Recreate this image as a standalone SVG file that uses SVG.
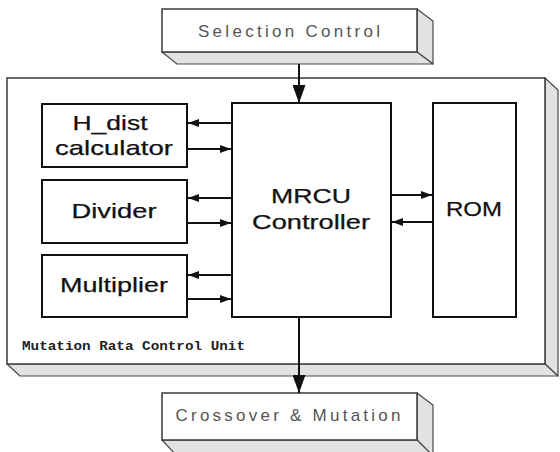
<svg xmlns="http://www.w3.org/2000/svg" width="560" height="452" viewBox="0 0 560 452">
  <style>
    .face { fill: #ffffff; stroke: #3a3a3a; stroke-width: 1.5; }
    .side { fill: #e2e2e2; stroke: #4a4a4a; stroke-width: 1.2; stroke-linejoin: round; }
    .blk { fill: #ffffff; stroke: #111111; stroke-width: 2; }
    .big { font-family: "Liberation Sans", Arial, sans-serif; font-size: 21px; fill: #111111; stroke: #111111; stroke-width: 0.25; text-anchor: middle; }
    .light { font-family: "Liberation Sans", Arial, sans-serif; font-size: 17px; fill: #555555; text-anchor: middle; }
    .small { font-family: "Liberation Mono", "Courier New", monospace; font-size: 12.5px; font-weight: bold; fill: #222222; }
    .wire { stroke: #111111; stroke-width: 2; fill: none; }
  </style>
  <defs>
    <marker id="ah" viewBox="0 0 11 8" refX="11" refY="4" markerWidth="11" markerHeight="8" markerUnits="userSpaceOnUse" orient="auto">
      <path d="M0,0 L11,4 L0,8 Z" fill="#111111"/>
    </marker>
    <marker id="ahBig" viewBox="0 0 18 13" refX="18" refY="6.5" markerWidth="18" markerHeight="13" markerUnits="userSpaceOnUse" orient="auto">
      <path d="M0,0 L18,6.5 L0,13 Z" fill="#111111"/>
    </marker>
  </defs>

  <!-- Mutation Rate Control Unit frame (3D slab) -->
  <g id="mrcu-unit">
    <path class="side" d="M545,78 L558,90 L558,376 L545,364 Z"/>
    <path class="side" d="M7,364 L20,376 L558,376 L545,364 Z"/>
    <rect class="face" x="7" y="78" width="538" height="286"/>
    <text class="small" x="22" y="350" textLength="223" lengthAdjust="spacingAndGlyphs">Mutation Rata Control Unit</text>
  </g>

  <!-- Selection Control slab -->
  <g id="selection-control">
    <path class="side" d="M417,9 L433,21 L433,64 L417,52 Z"/>
    <path class="side" d="M162,52 L177,64 L433,64 L417,52 Z"/>
    <rect class="face" x="162" y="9" width="255" height="43"/>
    <text class="light" x="289" y="37" textLength="182" lengthAdjust="spacing">Selection Control</text>
  </g>

  <!-- Crossover & Mutation slab -->
  <g id="crossover-mutation">
    <path class="side" d="M417,393 L433,405 L433,456 L417,440 Z"/>
    <path class="side" d="M162,440 L177,456 L433,456 L417,440 Z"/>
    <rect class="face" x="162" y="393" width="255" height="47"/>
    <text class="light" x="288" y="421" textLength="225" lengthAdjust="spacing">Crossover &amp; Mutation</text>
  </g>

  <g id="h-dist">
    <rect class="blk" x="42" y="104" width="145" height="63"/>
    <text class="big" x="110" y="130" textLength="75" lengthAdjust="spacingAndGlyphs">H_dist</text>
    <text class="big" x="114" y="155" textLength="118" lengthAdjust="spacingAndGlyphs">calculator</text>
  </g>

  <g id="divider">
    <rect class="blk" x="42" y="180" width="145" height="63"/>
    <text class="big" x="114" y="218" textLength="85" lengthAdjust="spacingAndGlyphs">Divider</text>
  </g>

  <g id="multiplier">
    <rect class="blk" x="42" y="255" width="145" height="62"/>
    <text class="big" x="114" y="292" textLength="108" lengthAdjust="spacingAndGlyphs">Multiplier</text>
  </g>

  <g id="mrcu-controller">
    <rect class="blk" x="232" y="103" width="159" height="214"/>
    <text class="big" x="311" y="203" textLength="80" lengthAdjust="spacingAndGlyphs">MRCU</text>
    <text class="big" x="311" y="229" textLength="118" lengthAdjust="spacingAndGlyphs">Controller</text>
  </g>

  <g id="rom">
    <rect class="blk" x="433" y="103" width="83" height="214"/>
    <text class="big" x="474" y="216" textLength="56" lengthAdjust="spacingAndGlyphs">ROM</text>
  </g>

  <!-- Connectors -->
  <g id="connectors">
    <line class="wire" x1="299" y1="64" x2="299" y2="103" marker-end="url(#ahBig)"/>
    <line class="wire" x1="299" y1="317" x2="299" y2="393" marker-end="url(#ahBig)"/>

    <line class="wire" x1="232" y1="123" x2="188" y2="123" marker-end="url(#ah)"/>
    <line class="wire" x1="187" y1="149" x2="231" y2="149" marker-end="url(#ah)"/>
    <line class="wire" x1="232" y1="198" x2="188" y2="198" marker-end="url(#ah)"/>
    <line class="wire" x1="187" y1="223" x2="231" y2="223" marker-end="url(#ah)"/>
    <line class="wire" x1="232" y1="275" x2="188" y2="275" marker-end="url(#ah)"/>
    <line class="wire" x1="187" y1="299" x2="231" y2="299" marker-end="url(#ah)"/>

    <line class="wire" x1="391" y1="195" x2="432" y2="195" marker-end="url(#ah)"/>
    <line class="wire" x1="433" y1="222" x2="392" y2="222" marker-end="url(#ah)"/>
  </g>
</svg>
